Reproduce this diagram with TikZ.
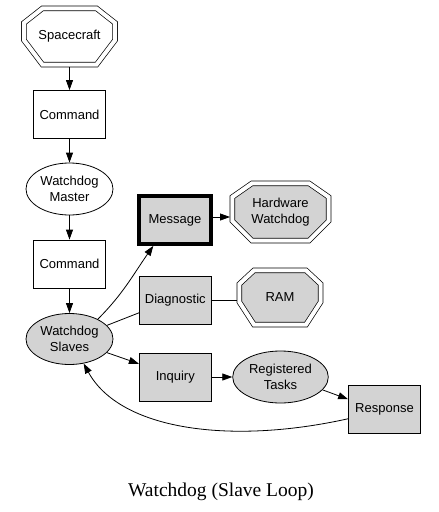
\documentclass[tikz,border=0pt]{standalone}
\usepackage{fontspec}
\setmainfont{Liberation Sans}
\newfontfamily\capfont{Liberation Serif}
\usetikzlibrary{shapes.geometric,arrows.meta,calc,backgrounds}
\definecolor{lg}{RGB}{211,211,211}
\tikzset{
 lbl/.style={font=\fontsize{13}{16}\selectfont, align=center, inner sep=0pt},
 boxw/.style={lbl, draw, line width=0.8pt, rectangle, minimum width=72pt, minimum height=48pt},
 boxg/.style={boxw, fill=lg},
 ell/.style={lbl, draw, line width=0.8pt, ellipse, minimum width=87pt, minimum height=52pt},
 octn/.style={lbl, rectangle, outer sep=0pt},
 octline/.style={draw, line width=0.7pt, double=white, double distance=4pt},
 arr/.style={line width=0.8pt, -{Triangle[length=10pt,width=7pt]}},
 lin/.style={line width=0.8pt},
}
\newcommand\octo[5]{%
 \path[octline,#5] ($(#1.north west)+(#2,2.35)$) -- ($(#1.north east)+(-#2,2.35)$)
   -- ($(#1.north east)+(-2.35,#3)$) -- ($(#1.south east)+(-2.35,-#4)$)
   -- ($(#1.south east)+(-#2,-2.35)$) -- ($(#1.south west)+(#2,-2.35)$)
   -- ($(#1.south west)+(2.35,-#4)$) -- ($(#1.north west)+(2.35,#3)$) -- cycle;}
\begin{document}
\begin{tikzpicture}[x=1pt,y=-1pt]
\useasboundingbox (0,0) rectangle (439,512);
\node[octn, minimum width=96pt, minimum height=61pt] (sc) at (69.5,36.5) {Spacecraft};
\node[boxw] (c1) at (69.5,114.5) {Command};
\node[ell] (wm) at (69.5,189) {Watchdog\\Master};
\node[boxw] (c2) at (69.5,264) {Command};
\node[ell, fill=lg, minimum height=51pt] (ws) at (69.5,339) {Watchdog\\Slaves};
\node[boxg, line width=4pt, minimum width=71.4pt, minimum height=47.7pt] (msg) at (175,220) {Message};
\node[octn, minimum width=101pt, minimum height=62pt] (hw) at (280.5,212) {Hardware\\Watchdog};
\node[boxg] (diag) at (175.3,300.3) {Diagnostic};
\node[octn, minimum width=86pt, minimum height=59pt] (ram) at (280,297.5) {RAM};
\node[boxg] (inq) at (175.3,377) {Inquiry};
\node[ell, fill=lg, minimum width=95.6pt] (rt) at (280.5,377) {Registered\\Tasks};
\node[boxg] (res) at (384.5,409) {Response};
\node[font=\capfont\fontsize{19.5}{22}\selectfont, anchor=base, inner sep=0pt] (cap) at (221,496) {Watchdog (Slave Loop)};
\begin{scope}[on background layer]
 \octo{sc}{21}{17}{27}{}
 \octo{hw}{22}{16}{22}{fill=lg}
 \octo{ram}{17}{16}{25}{fill=lg}
\end{scope}
\draw[arr] (sc) -- (c1);
\draw[arr] (c1) -- (wm);
\draw[arr] (wm) -- (c2);
\draw[arr] (c2) -- (ws);
\draw[arr] (ws.35) to[out=45,in=235] (msg.230);
\draw[arr] ([yshift=3pt]msg.east) -- ([yshift=3pt]msg.east -| hw.west);
\draw[lin] (ws.20) -- (diag.199);
\draw[lin] (diag.east) -- (diag.east -| ram.west);
\draw[arr] (ws.340) -- (inq.160);
\draw[arr] (inq) -- (rt);
\draw[arr] (rt.343) -- (res.165);
\draw[arr] (res.195) .. controls (230,445) and (120,430) .. (ws.300);
\end{tikzpicture}
\end{document}
